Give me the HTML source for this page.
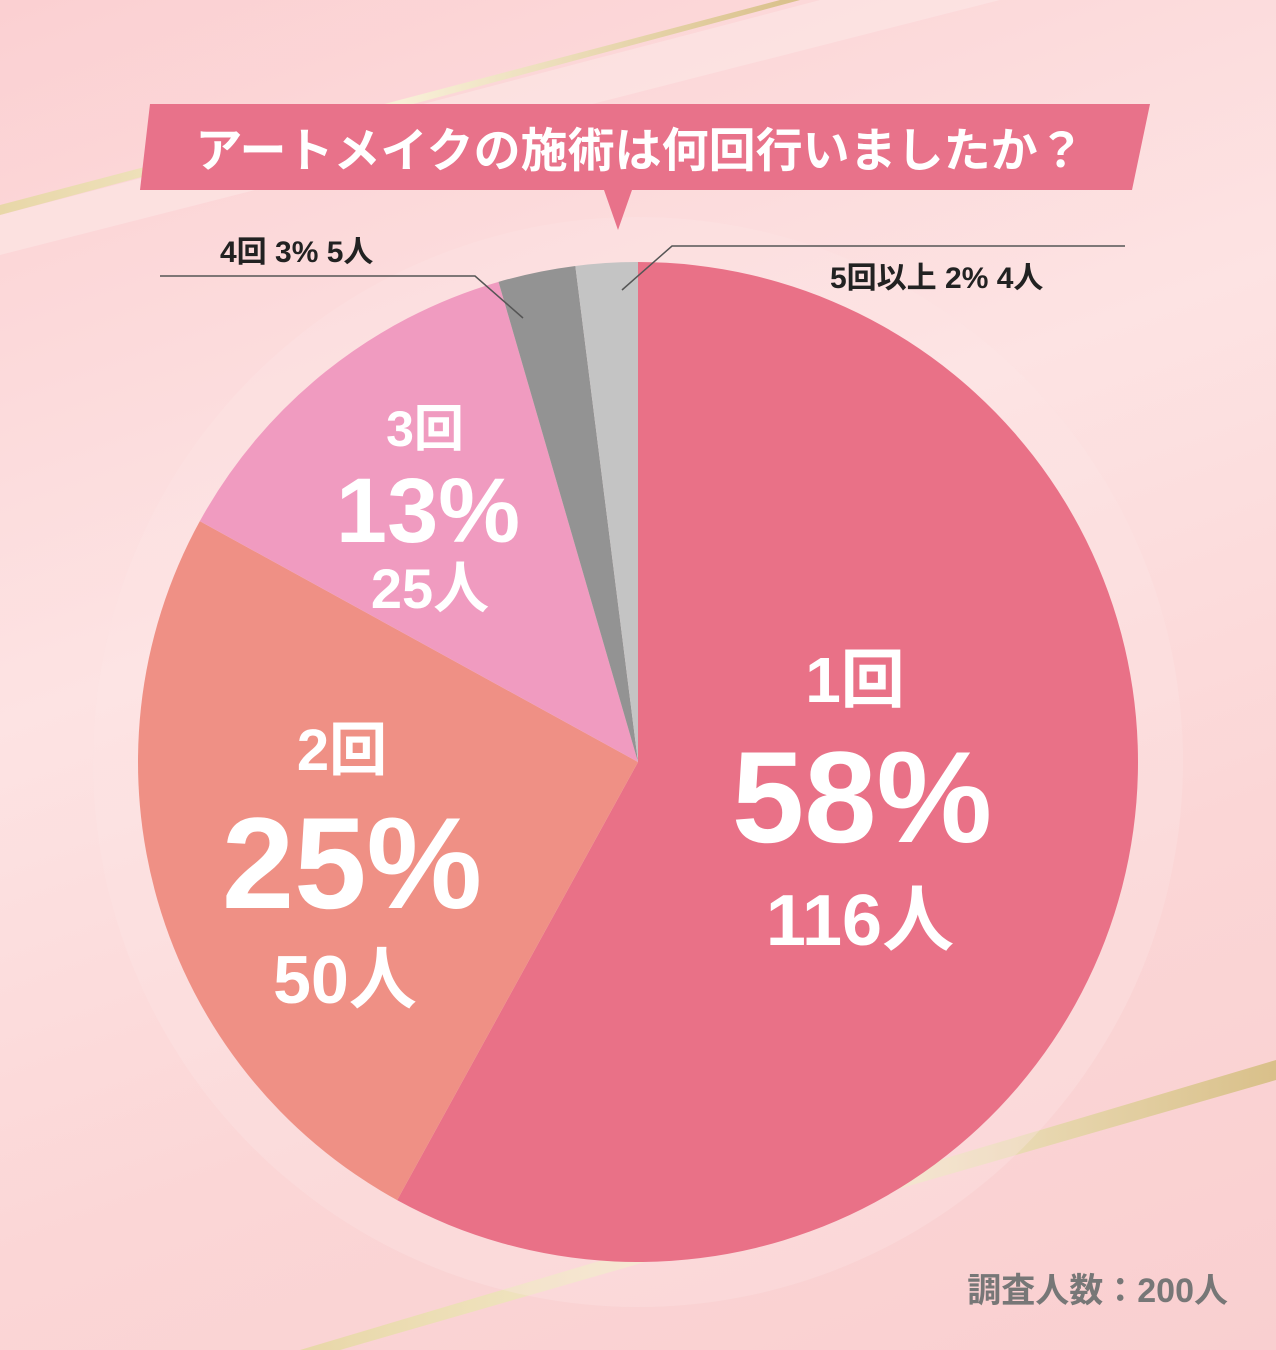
<!DOCTYPE html>
<html><head><meta charset="utf-8">
<style>
html,body{margin:0;padding:0}
body{width:1276px;height:1350px;overflow:hidden;background:linear-gradient(160deg,#fbd0d2 0%,#fde3e3 40%,#fbd6d6 70%,#f9cfd0 100%);font-family:"Liberation Sans","Noto Sans CJK JP",sans-serif;position:relative}
svg{position:absolute;left:0;top:0}
</style></head><body>
<svg width="1276" height="1350">
<defs><linearGradient id="gold" x1="0" x2="1"><stop offset="0" stop-color="#e8d7a8"/><stop offset="0.5" stop-color="#f8f0d8"/><stop offset="1" stop-color="#d9c08a"/></linearGradient></defs>
<polygon points="0,215 820,0 1000,0 0,255" fill="#fce8e6" opacity="0.6"/>
<polygon points="0,205 780,0 800,0 0,215" fill="url(#gold)"/>
<polygon points="300,1350 1276,1060 1276,1080 340,1350" fill="url(#gold)"/>
<circle cx="638" cy="762" r="545" fill="#fde4e4" opacity="0.35"/>
<g id="slices"></g>
<polygon points="150,104 1150,104 1132,190 632,190 618,230 604,190 140,190" fill="#e8728a"/>
<text x="640" y="167" text-anchor="middle" font-size="47" font-weight="bold" fill="#fff">アートメイクの施術は何回行いましたか？</text>
<polyline points="160,276 475,276 523,318" fill="none" stroke="#555" stroke-width="1.5"/>
<text x="220" y="262" font-size="30" font-weight="bold" fill="#222">4回 3% 5人</text>
<polyline points="1125,246 672,246 622,290" fill="none" stroke="#555" stroke-width="1.5"/>
<text x="830" y="288" font-size="30" font-weight="bold" fill="#222">5回以上 2% 4人</text>
<g fill="#fff" font-weight="bold" text-anchor="middle">
<text x="855" y="702" font-size="64">1回</text>
<text x="862" y="842" font-size="130">58%</text>
<text x="860" y="945" font-size="72">116人</text>
<text x="342" y="770" font-size="58">2回</text>
<text x="352" y="908" font-size="130">25%</text>
<text x="345" y="1003" font-size="68">50人</text>
<text x="425" y="446" font-size="50">3回</text>
<text x="428" y="542" font-size="92">13%</text>
<text x="430" y="608" font-size="56">25人</text>
</g>
<text x="1228" y="1302" text-anchor="end" font-size="34" font-weight="bold" fill="#777">調査人数：200人</text>
</svg>
<script>
const categories=["1回","2回","3回","4回","5回以上"];
const counts=[116,50,25,5,4];
const colors=["#e97187","#ef9085","#f09bc0","#939393","#c4c4c4"];
const cx=638,cy=762,r=500;
const total=counts.reduce((a,b)=>a+b,0);
const g=document.getElementById('slices');
let acc=0;
function pt(f){const a=f*2*Math.PI;return [cx+r*Math.sin(a),cy-r*Math.cos(a)];}
counts.forEach((v,i)=>{
  const f0=acc/total;acc+=v;const f1=acc/total;
  const p0=pt(f0),p1=pt(f1);
  const large=(f1-f0)>0.5?1:0;
  const p=document.createElementNS('http://www.w3.org/2000/svg','path');
  p.setAttribute('d',`M${cx},${cy} L${p0[0]},${p0[1]} A${r},${r} 0 ${large} 1 ${p1[0]},${p1[1]} Z`);
  p.setAttribute('fill',colors[i]);
  
  
  g.appendChild(p);
});
</script>
</body></html>
